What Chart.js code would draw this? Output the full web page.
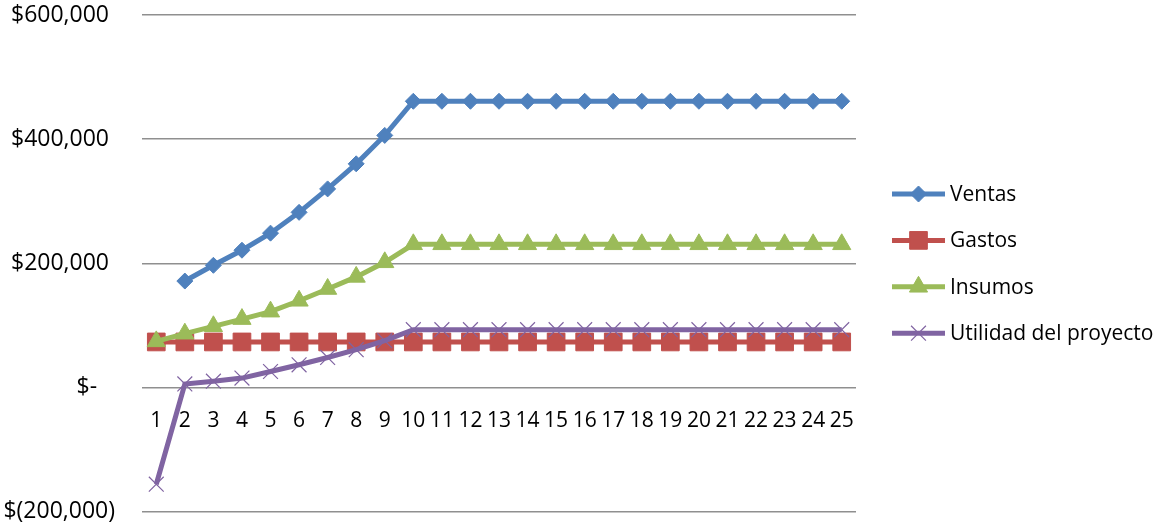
<!DOCTYPE html>
<html>
<head>
<meta charset="utf-8">
<script src="https://cdn.jsdelivr.net/npm/chart.js@4/dist/chart.umd.min.js"></script>
<style>
  html, body { margin: 0; padding: 0; background: #ffffff; }
  #wrap { width: 1166px; height: 525px; position: relative; }
</style>
</head>
<body>
<div id="wrap"><canvas id="c" width="1166" height="525"></canvas></div>
<script>
// Periodos del proyecto (años 1 a 25)
const periodos = ['1','2','3','4','5','6','7','8','9','10','11','12','13','14','15','16','17','18','19','20','21','22','23','24','25'];

// Ventas: sin ventas en el año 1, crecen hasta el año 10 y luego se estabilizan
const ventas = [null, 171300, 196700, 221000, 248500, 282000, 319800, 360200, 406000, 461000,
  461000, 461000, 461000, 461000, 461000, 461000, 461000, 461000, 461000, 461000,
  461000, 461000, 461000, 461000, 461000];

// Gastos fijos anuales
const gastos = [73200, 73200, 73200, 73200, 73200, 73200, 73200, 73200, 73200, 73200,
  73200, 73200, 73200, 73200, 73200, 73200, 73200, 73200, 73200, 73200,
  73200, 73200, 73200, 73200, 73200];

// Insumos
const insumos = [74100, 86500, 98400, 110000, 122000, 139500, 158500, 178000, 201500, 230500,
  230500, 230500, 230500, 230500, 230500, 230500, 230500, 230500, 230500, 230500,
  230500, 230500, 230500, 230500, 230500];

// Utilidad del proyecto (año 1 con la inversión inicial)
const utilidad = [-156000, 5500, 10000, 15000, 25600, 36400, 48200, 60700, 75300, 93000,
  93000, 93000, 93000, 93000, 93000, 93000, 93000, 93000, 93000, 93000,
  93000, 93000, 93000, 93000, 93000];

const ejeY = { min: -200000, max: 600000, paso: 200000 };

const FONT = '"Open Sans", "Liberation Sans", sans-serif';

// Formato contable para los rótulos del eje de valores
function formatoContable(v) {
  if (v === 0) return '$-   ';
  const abs = Math.abs(v).toLocaleString('en-US');
  return v < 0 ? '$(' + abs + ')' : '$' + abs + ' ';
}

// Leyenda a la derecha: cada serie con su línea y su marcador
const leyendaLateral = {
  id: 'leyendaLateral',
  afterDraw(chart) {
    const ctx = chart.ctx;
    const x0 = 892, x1 = 945, xt = 950;
    const y0 = 194, dy = 46.4;
    chart.data.datasets.forEach((ds, i) => {
      const y = y0 + i * dy;
      ctx.save();
      ctx.strokeStyle = ds.borderColor;
      ctx.lineWidth = ds.borderWidth;
      ctx.beginPath();
      ctx.moveTo(x0, y);
      ctx.lineTo(x1, y);
      ctx.stroke();
      ctx.fillStyle = ds.pointBackgroundColor;
      ctx.strokeStyle = ds.pointBorderColor;
      ctx.lineWidth = ds.pointBorderWidth;
      Chart.helpers.drawPoint(ctx, {
        pointStyle: ds.pointStyle,
        radius: ds.pointRadius,
        borderWidth: ds.pointBorderWidth,
        rotation: 0
      }, (x0 + x1) / 2, y);
      ctx.restore();
      ctx.save();
      ctx.fillStyle = '#000000';
      ctx.font = '21px ' + FONT;
      ctx.textBaseline = 'middle';
      ctx.textAlign = 'left';
      ctx.fillText(ds.label, xt, y + 1);
      ctx.restore();
    });
  }
};

const serie = (label, data, color, style, radius, order, borderW) => ({
  label, data, order,
  borderColor: color,
  backgroundColor: color,
  borderWidth: 5,
  pointStyle: style,
  pointRadius: radius,
  pointHoverRadius: radius,
  pointBackgroundColor: color,
  pointBorderColor: color,
  pointBorderWidth: borderW,
  tension: 0,
  fill: false
});

const datasets = [
  serie('Ventas', ventas, '#4F81BD', 'rectRot', 8, 3, 1),
  serie('Gastos', gastos, '#C0504D', 'rect', 12.5, 2, 1),
  serie('Insumos', insumos, '#9BBB59', 'triangle', 10.5, 1, 1),
  serie('Utilidad del proyecto', utilidad, '#8064A2', 'crossRot', 10.5, 0, 1.2)
];

new Chart(document.getElementById('c'), {
  type: 'line',
  data: { labels: periodos, datasets },
  options: {
    responsive: false,
    animation: false,
    devicePixelRatio: 1,
    layout: { padding: { top: 15, right: 310, bottom: 13, left: 0 } },
    plugins: {
      legend: { display: false },
      tooltip: { enabled: false }
    },
    scales: {
      x: {
        type: 'category',
        offset: true,
        position: { y: 0 },
        grid: { display: false },
        border: { display: false },
        ticks: {
          autoSkip: false,
          maxRotation: 0,
          minRotation: 0,
          padding: 13,
          color: '#000000',
          font: { family: FONT, size: 21 }
        }
      },
      y: {
        min: ejeY.min,
        max: ejeY.max,
        afterFit(scale) {
          scale.width = 142;
          scale.paddingTop = 0;
          scale.paddingBottom = 0;
        },
        grid: { color: '#8f8f8f', lineWidth: 1.5, drawTicks: false },
        border: { display: false },
        ticks: {
          stepSize: ejeY.paso,
          padding: 27,
          color: '#000000',
          font: { family: FONT, size: 23 },
          callback: (v) => formatoContable(v)
        }
      }
    }
  },
  plugins: [leyendaLateral]
});
</script>
</body>
</html>
